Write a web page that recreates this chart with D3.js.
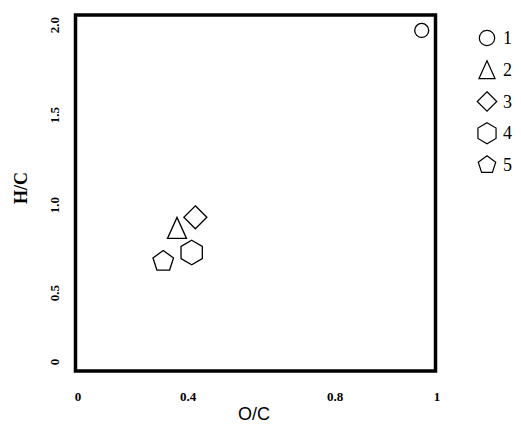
<!DOCTYPE html>
<html>
<head>
<meta charset="utf-8">
<script src="https://cdn.jsdelivr.net/npm/d3@7"></script>
<style>
  body { margin: 0; background: #fff; }
  svg { display: block; }
</style>
</head>
<body>
<svg id="chart" width="521" height="425"></svg>
<script>
// samples 1..5, O/C and H/C ratios
const samples = ["1", "2", "3", "4", "5"];
const shapes = ["circle", "triangle", "diamond", "hexagon", "pentagon"];
const oc = [0.97, 0.36, 0.42, 0.41, 0.31];
const hc = [1.97, 0.87, 0.93, 0.73, 0.68];

const xTicks = [0, 0.4, 0.8, 1];
const xTickLabels = ["0", "0.4", "0.8", "1"];
const yTicks = [0, 0.5, 1, 1.5, 2];
const yTickLabels = ["0", "0.5", "1.0", "1.5", "2.0"];

const svg = d3.select('#chart');

// the original axis is not evenly spaced, so use piecewise scales
const x = d3.scaleLinear().domain(xTicks).range([78, 188, 335, 437]);
const y = d3.scaleLinear().domain(yTicks).range([362, 293, 205, 115, 25]);

const frame = { x0: 75.5, y0: 15, x1: 435.5, y1: 371 };

function polygon(n, r, rot) {
  let pts = d3.range(n).map(i => {
    let a = rot + i * 2 * Math.PI / n;
    return [r * Math.sin(a), -r * Math.cos(a)];
  });
  return d3.line().curve(d3.curveLinearClosed)(pts);
}

function shapePath(type, s) {
  if (type == 'circle') return d3.symbol().type(d3.symbolCircle).size(Math.PI * 49 * s * s)();
  if (type == 'triangle') {
    return d3.line().curve(d3.curveLinearClosed)([[0, -10.5 * s], [9.5 * s, 10.5 * s], [-9.5 * s, 10.5 * s]]);
  }
  if (type == 'diamond') return polygon(4, 11.5 * s, 0);
  if (type == 'hexagon') return polygon(6, 12.3 * s, 0);
  return polygon(5, 10.8 * s, 0);
}

// frame
svg.append('rect')
  .attr('x', frame.x0).attr('y', frame.y0)
  .attr('width', frame.x1 - frame.x0).attr('height', frame.y1 - frame.y0)
  .attr('fill', 'none')
  .attr('stroke', 'black')
  .attr('stroke-width', 3.5);

// x tick labels
svg.selectAll('.xtick').data(xTicks)
  .enter().append('text')
  .attr('class', 'xtick')
  .attr('x', d => x(d)).attr('y', 401)
  .attr('text-anchor', 'middle')
  .style('font-family', 'Liberation Serif')
  .style('font-weight', 'bold')
  .style('font-size', '13px')
  .text((d, i) => xTickLabels[i]);

// y tick labels, rotated
svg.selectAll('.ytick').data(yTicks)
  .enter().append('text')
  .attr('class', 'ytick')
  .attr('transform', d => `translate(59,${y(d)}) rotate(-90)`)
  .attr('text-anchor', 'middle')
  .style('font-family', 'Liberation Serif')
  .style('font-weight', 'bold')
  .style('font-size', '13px')
  .text((d, i) => yTickLabels[i]);

// axis titles
svg.append('text')
  .attr('x', 254).attr('y', 420)
  .attr('text-anchor', 'middle')
  .style('font-family', 'Liberation Sans')
  .style('font-size', '18px')
  .text('O/C');

svg.append('text')
  .attr('transform', 'translate(27,188) rotate(-90)')
  .attr('text-anchor', 'middle')
  .style('font-family', 'Liberation Serif')
  .style('font-weight', 'bold')
  .style('font-size', '18px')
  .text('H/C');

// points
svg.selectAll('.pt').data(samples)
  .enter().append('path')
  .attr('class', 'pt')
  .attr('d', (d, i) => shapePath(shapes[i], 1))
  .attr('transform', (d, i) => `translate(${x(oc[i])},${y(hc[i])})`)
  .attr('fill', 'white')
  .attr('stroke', 'black')
  .attr('stroke-width', 1.3);

// legend
let legY = d3.scaleLinear().domain([0, 4]).range([38, 165]);
let legend = svg.append('g');
legend.selectAll('path').data(samples)
  .enter().append('path')
  .attr('d', (d, i) => shapePath(shapes[i], i == 0 ? 1.1 : 0.85))
  .attr('transform', (d, i) => `translate(487,${legY(i)})`)
  .attr('fill', 'white')
  .attr('stroke', 'black')
  .attr('stroke-width', 1.2);

legend.selectAll('text').data(samples)
  .enter().append('text')
  .attr('x', 503).attr('y', (d, i) => legY(i) + 6)
  .style('font-family', 'Liberation Serif')
  .style('font-size', '18px')
  .text(d => d);
</script>
</body>
</html>
